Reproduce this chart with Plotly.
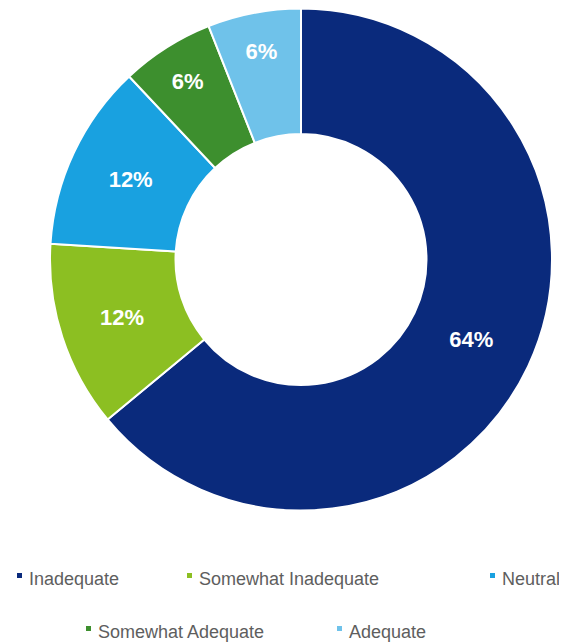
import plotly.graph_objects as go

categories = ["Inadequate", "Somewhat Inadequate", "Neutral", "Somewhat Adequate", "Adequate"]
values = [64, 12, 12, 6, 6]
colors = ["#0a2a7c", "#8cbf22", "#19a1e0", "#3d8f2e", "#6fc2ea"]

W, H = 567, 642
cx, cy, R = 293, 251.5, 251

# legend layout (pixel positions of each entry's text start and row centre)
legend_x = [19, 189, 492, 88, 339]
legend_y = [571, 571, 571, 624, 624]

fig = go.Figure(go.Pie(
    labels=categories,
    values=values,
    sort=False,
    direction="clockwise",
    rotation=0,
    hole=0.5,
    marker=dict(colors=colors, line=dict(color="white", width=2)),
    texttemplate="%{value}%",
    textposition="inside",
    insidetextorientation="horizontal",
    textfont=dict(family="Liberation Sans, Arial, sans-serif", size=22, color="white", weight="bold"),
    domain=dict(x=[(cx - R) / W, (cx + R) / W], y=[(H - cy - R) / H, (H - cy + R) / H]),
    showlegend=False,
    hoverinfo="label+percent",
))

annotations = []
shapes = []
for cat, col, lx, ly in zip(categories, colors, legend_x, legend_y):
    annotations.append(dict(
        text=cat, x=lx / W, y=1 - ly / H, xref="paper", yref="paper",
        xanchor="left", yanchor="middle", showarrow=False,
        font=dict(family="Liberation Sans, Arial, sans-serif", size=18, color="#5e5e5e"),
    ))
    shapes.append(dict(
        type="rect", xref="paper", yref="paper",
        x0=(lx - 10) / W, x1=(lx - 5) / W,
        y0=1 - (ly - 1) / H, y1=1 - (ly - 6) / H,
        fillcolor=col, line=dict(width=0),
    ))

fig.update_layout(
    width=W, height=H,
    margin=dict(l=0, r=0, t=0, b=0),
    paper_bgcolor="white",
    plot_bgcolor="white",
    uniformtext=dict(minsize=22, mode="show"),
    showlegend=False,
    annotations=annotations,
    shapes=shapes,
)

fig.write_html("out.html")
